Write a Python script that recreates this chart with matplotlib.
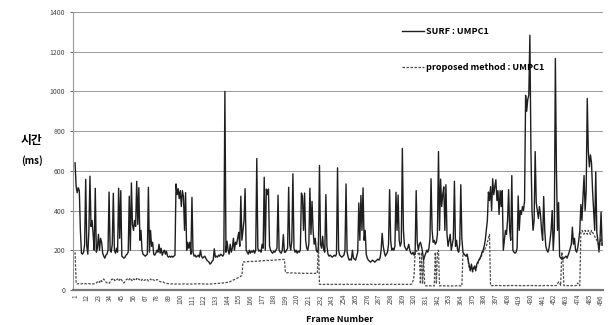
import matplotlib
matplotlib.use("Agg")
import matplotlib.pyplot as plt
import numpy as np

plt.rcParams['font.family'] = ['Noto Sans CJK KR', 'DejaVu Sans']

# processing time per frame (ms)
surf_umpc1 = [
    640, 520, 490, 515, 500, 300, 185, 180, 190, 230,
    557, 220, 180, 300, 573, 320, 350, 280, 200, 512,
    190, 210, 280, 200, 260, 240, 185, 170, 160, 175,
    180, 200, 493, 200, 190, 230, 487, 200, 185, 210,
    190, 512, 260, 500, 170, 165, 160, 165, 175, 180,
    190, 472, 200, 539, 330, 300, 350, 320, 547, 330,
    515, 250, 300, 200, 180, 175, 170, 175, 180, 517,
    190, 300, 220, 240, 180, 175, 185, 200, 190, 230,
    185, 210, 175, 190, 200, 180, 195, 170, 165, 170,
    165, 170, 165, 170, 175, 534, 480, 510, 460, 500,
    420, 500, 470, 300, 490, 200, 240, 210, 240, 180,
    466, 190, 170, 175, 165, 170, 175, 165, 200, 170,
    160, 165, 170, 160, 150, 145, 140, 130, 135, 145,
    150, 207, 165, 170, 165, 175, 170, 180, 175, 170,
    180, 1000, 190, 245, 200, 180, 230, 190, 210, 260,
    200, 240, 230, 260, 290, 220, 472, 250, 300, 350,
    510, 200, 190, 180, 200, 185, 195, 190, 200, 185,
    200, 662, 210, 195, 200, 190, 230, 210, 568, 200,
    508, 480, 508, 220, 200, 190, 185, 195, 190, 200,
    210, 477, 200, 190, 185, 200, 278, 190, 190, 200,
    210, 517, 230, 200, 250, 585, 210, 190, 200, 185,
    195, 190, 200, 488, 470, 300, 488, 250, 210, 200,
    230, 512, 280, 446, 300, 230, 260, 200, 190, 210,
    627, 230, 210, 270, 200, 190, 480, 220, 180, 170,
    175, 170, 165, 170, 175, 170, 180, 615, 200, 175,
    170, 165, 170, 175, 200, 534, 190, 165, 150, 155,
    150, 200, 160, 155, 150, 170, 190, 438, 250, 476,
    300, 514, 250, 300, 180, 160, 150, 145, 140, 145,
    150, 145, 140, 145, 150, 155, 150, 160, 200, 285,
    220, 190, 170, 180, 190, 230, 505, 250, 200, 210,
    200, 220, 492, 300, 478, 250, 220, 240, 713, 300,
    220, 210, 200, 210, 230, 200, 185, 180, 190, 175,
    180, 500, 240, 200, 230, 240, 220, 190, 150, 170,
    185, 200, 190, 210, 260, 560, 300, 240, 250, 230,
    240, 280, 697, 300, 558, 420, 480, 519, 300, 530,
    280, 220, 250, 280, 200, 230, 260, 547, 220, 250,
    200, 190, 230, 530, 260, 190, 180, 175, 170, 180,
    150, 120, 100, 130, 95, 110, 120, 100, 130, 140,
    150, 160, 170, 190, 200, 220, 250, 300, 350, 493,
    450, 520, 400, 560, 480, 520, 555, 450, 500, 380,
    500, 420, 500, 200, 250, 300, 280, 350, 505, 300,
    250, 576, 200, 190, 185, 190, 210, 473, 300, 400,
    380, 420, 400, 450, 980, 900, 960, 980, 1283, 700,
    400, 300, 350, 697, 440, 400, 360, 420, 380, 300,
    250, 470, 300, 220, 200, 190, 210, 250, 300, 400,
    200, 300, 1166, 600, 300, 440, 170, 160, 165, 155,
    160, 165, 170, 160, 175, 190, 210, 230, 316, 230,
    260, 200, 190, 210, 250, 300, 430, 350, 470, 576,
    400, 500, 964, 700, 620, 680, 640, 500, 400, 300,
    595, 290, 250, 200, 250, 392, 225,
]

proposed_umpc1 = [
    190, 32, 30, 31, 32, 30, 31, 32, 30, 31,
    32, 30, 31, 32, 30, 31, 32, 30, 31, 33,
    35, 40, 45, 38, 50, 42, 48, 55, 45, 40,
    35, 32, 33, 40, 50, 55, 48, 52, 45, 50,
    55, 45, 52, 58, 48, 40, 35, 42, 50, 55,
    48, 52, 60, 50, 45, 55, 52, 48, 58, 50,
    55, 50, 45, 52, 55, 48, 50, 55, 52, 45,
    50, 55, 48, 52, 50, 45, 48, 52, 50, 45,
    42, 40, 38, 40, 36, 34, 33, 32, 31, 30,
    30, 30, 31, 30, 29, 30, 31, 30, 29, 30,
    30, 29, 30, 31, 30, 29, 30, 30, 31, 30,
    29, 30, 30, 31, 30, 29, 30, 31, 30, 29,
    30, 30, 31, 30, 29, 30, 31, 30, 30, 31,
    32, 31, 32, 33, 32, 33, 34, 33, 35, 34,
    36, 35, 37, 38, 37, 40, 42, 45, 48, 50,
    52, 55, 58, 60, 62, 63, 70, 72, 140, 142,
    140, 141, 142, 143, 142, 143, 144, 143, 144, 145,
    144, 145, 146, 145, 146, 147, 146, 147, 148, 147,
    148, 149, 148, 149, 150, 149, 150, 151, 150, 151,
    152, 151, 152, 153, 152, 153, 154, 153, 88, 87,
    86, 87, 86, 85, 86, 85, 86, 85, 84, 85,
    84, 85, 84, 85, 84, 83, 84, 85, 84, 83,
    84, 83, 84, 83, 84, 83, 84, 83, 84, 240,
    28, 28, 29, 28, 27, 28, 28, 29, 28, 28,
    28, 27, 28, 28, 29, 28, 28, 27, 28, 28,
    29, 28, 28, 27, 28, 28, 29, 28, 27, 28,
    28, 28, 29, 28, 27, 28, 28, 29, 28, 28,
    27, 28, 28, 29, 28, 28, 27, 28, 29, 28,
    28, 29, 28, 27, 28, 28, 28, 29, 28, 27,
    28, 28, 29, 28, 28, 27, 28, 28, 29, 28,
    28, 27, 28, 28, 29, 28, 28, 27, 28, 28,
    28, 27, 28, 28, 29, 28, 28, 30, 45, 70,
    190, 200, 190, 180, 190, 30, 190, 30, 150, 30,
    20, 21, 20, 20, 21, 20, 20, 21, 20, 190,
    30, 190, 200, 20, 21, 20, 20, 21, 20, 20,
    21, 20, 20, 21, 20, 20, 21, 20, 20, 21,
    20, 20, 21, 20, 20, 185, 180, 175, 170, 175,
    140, 110, 95, 120, 90, 100, 110, 95, 120, 130,
    145, 155, 165, 180, 190, 200, 210, 220, 240, 260,
    280, 22, 21, 22, 22, 21, 22, 22, 21, 22,
    22, 21, 22, 22, 21, 22, 22, 21, 22, 22,
    21, 22, 22, 21, 22, 22, 21, 22, 22, 21,
    22, 22, 21, 22, 22, 21, 22, 22, 21, 22,
    22, 21, 22, 22, 21, 22, 22, 21, 22, 22,
    21, 22, 22, 21, 22, 22, 21, 22, 22, 21,
    22, 21, 22, 22, 30, 40, 35, 22, 190, 170,
    22, 21, 22, 22, 21, 22, 22, 21, 22, 22,
    21, 22, 22, 35, 22, 22, 290, 300, 290, 280,
    300, 290, 280, 300, 290, 280, 300, 290, 280, 270,
    260, 250, 240, 190, 240, 260, 220,
]

tick_labels = [1, 12, 23, 34, 45, 56, 67, 78, 89, 100, 111, 122, 133, 144,
               155, 166, 177, 188, 199, 210, 221, 232, 243, 254, 265, 276,
               287, 298, 309, 320, 331, 342, 353, 364, 375, 386, 397, 408,
               419, 430, 441, 452, 463, 474, 485, 496]

frames = np.arange(1, len(surf_umpc1) + 1)

fig = plt.figure(figsize=(6.13, 3.25), dpi=100)
ax = fig.add_axes([0.119, 0.108, 0.865, 0.855])

ax.plot(frames, surf_umpc1, color='#1e1e1e', lw=1.0, label='SURF : UMPC1', zorder=3)
ax.plot(frames[:len(proposed_umpc1)], proposed_umpc1, color='#4a4a4a', lw=0.9,
        ls=(0, (2, 1.2)), label='proposed method : UMPC1', zorder=2)

ax.set_xlim(-1, 498)
ax.set_ylim(0, 1400)
ax.set_yticks(np.arange(0, 1401, 200))
ax.yaxis.grid(True, color='#9a9a9a', lw=0.7)
ax.set_axisbelow(True)

ax.set_xticks(tick_labels)
ax.set_xticklabels([str(t) for t in tick_labels], rotation=90, fontsize=4.5, color='#444444')
ax.tick_params(axis='y', labelsize=5, colors='#444444', length=2, width=0.6)
ax.tick_params(axis='x', length=0, pad=3)

for s in ['top', 'right']:
    ax.spines[s].set_visible(False)
ax.spines['left'].set_color('#999999')
ax.spines['left'].set_linewidth(0.8)
ax.spines['bottom'].set_color('#777777')
ax.spines['bottom'].set_linewidth(1.6)

leg = ax.legend(loc='upper left', bbox_to_anchor=(0.605, 0.975), frameon=False,
                fontsize=6.5, handlelength=2.4, labelspacing=2.95, handletextpad=0.3)
for t in leg.get_texts():
    t.set_fontweight('bold')

fig.text(0.052, 1 - 141 / 325, '시간', fontsize=8.5, fontweight='bold', ha='center', va='center')
fig.text(0.052, 1 - 161 / 325, '(ms)', fontsize=7, fontweight='bold', ha='center', va='center')
fig.text(340 / 613, 0.016, 'Frame Number', fontsize=6.5, fontweight='bold', ha='center', va='center')

fig.savefig('out.png', dpi=100)
